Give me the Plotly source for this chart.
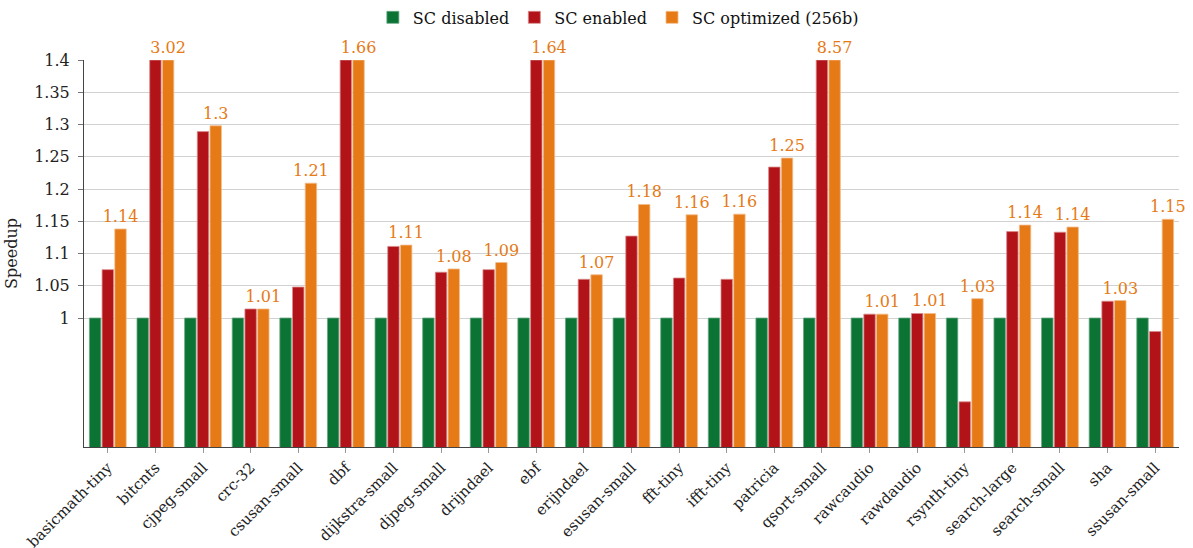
"""Speedup per benchmark: SC disabled / enabled / optimized."""

import plotly.graph_objects as go

benchmarks = [
    "basicmath-tiny", "bitcnts", "cjpeg-small", "crc-32", "csusan-small", "dbf",
    "dijkstra-small", "djpeg-small", "drijndael", "ebf", "erijndael", "esusan-small",
    "fft-tiny", "ifft-tiny", "patricia", "qsort-small", "rawcaudio", "rawdaudio",
    "rsynth-tiny", "search-large", "search-small", "sha", "ssusan-small",
]
sc_disabled = [1.0] * len(benchmarks)
sc_enabled = [
    1.075, 2.95, 1.289, 1.014, 1.048, 1.62,
    1.111, 1.071, 1.075, 1.60, 1.060, 1.127,
    1.062, 1.060, 1.234, 8.40, 1.006, 1.007,
    0.870, 1.134, 1.133, 1.026, 0.979,
]
sc_optimized = [
    1.138, 3.02, 1.298, 1.014, 1.209, 1.66,
    1.113, 1.076, 1.086, 1.64, 1.067, 1.176,
    1.160, 1.161, 1.248, 8.57, 1.006, 1.007,
    1.030, 1.144, 1.141, 1.027, 1.153,
]
y_ticks = [1.0, 1.05, 1.1, 1.15, 1.2, 1.25, 1.3, 1.35, 1.4]
y_min, y_max = 0.8, 1.4

GREEN = "#0b7334"
RED = "#b11318"
ORANGE = "#e57a17"
FONT = "DejaVu Serif"
SIZE = 16


def _clip(values):
    # bars above the axis top are cut at the top line, like pgfplots restrict
    return [min(v, y_max) for v in values]


series = [
    ("SC disabled", sc_disabled, GREEN, "#6aa883"),
    ("SC enabled", sc_enabled, RED, "#d98a8c"),
    ("SC optimized (256b)", sc_optimized, ORANGE, "#f2bc8b"),
]

fig = go.Figure()
for name, values, color, edge in series:
    labelled = name.startswith("SC optimized")
    fig.add_trace(
        go.Bar(
            x=benchmarks,
            y=_clip(values),
            name=name,
            marker={"color": color, "line": {"color": edge, "width": 0.8}},
            text=[f"{round(v, 2):g}" for v in values] if labelled else None,
            textposition="outside" if labelled else "none",
            textfont={"color": ORANGE, "size": SIZE, "family": FONT},
            constraintext="none",
            cliponaxis=False,
            hovertemplate="%{x}<br>%{customdata:.3f}<extra>" + name + "</extra>",
            customdata=values,
        )
    )

fig.update_layout(
    width=1193,
    height=548,
    barmode="group",
    bargap=0.2,
    bargroupgap=0.1,
    paper_bgcolor="white",
    plot_bgcolor="white",
    font={"family": FONT, "size": SIZE, "color": "#222222"},
    margin={"l": 84, "r": 14, "t": 60, "b": 101, "autoexpand": False},
    showlegend=True,
    legend={
        "orientation": "h",
        "x": 0.488,
        "xanchor": "center",
        "y": 1.11,
        "yanchor": "middle",
        "font": {"size": SIZE, "family": FONT, "color": "#111111"},
        "itemwidth": 30,
        "tracegroupgap": 0,
    },
)
fig.update_xaxes(
    type="category",
    automargin=False,
    tickangle=-45,
    ticks="outside",
    ticklen=5,
    tickcolor="#999999",
    showline=True,
    linecolor="#444444",
    linewidth=1,
    showgrid=False,
    tickfont={"size": 15, "family": FONT},
)
fig.update_yaxes(
    automargin=False,
    range=[y_min, y_max],
    tickvals=y_ticks,
    ticktext=[f"{v:g}" for v in y_ticks],
    ticks="outside",
    ticklen=5,
    tickcolor="#777777",
    ticklabelstandoff=5,
    showline=True,
    linecolor="#444444",
    linewidth=1,
    showgrid=True,
    gridcolor="#d2d2d2",
    gridwidth=1,
    zeroline=False,
    tickfont={"size": SIZE, "family": FONT},
    title={"text": "Speedup", "standoff": 12, "font": {"size": SIZE, "family": FONT}},
)

# drop the page's default body margin so the figure sits at the window corner
fig.write_html(
    "out.html",
    config={"displayModeBar": False},
    post_script="document.body.style.margin = '0';",
)
